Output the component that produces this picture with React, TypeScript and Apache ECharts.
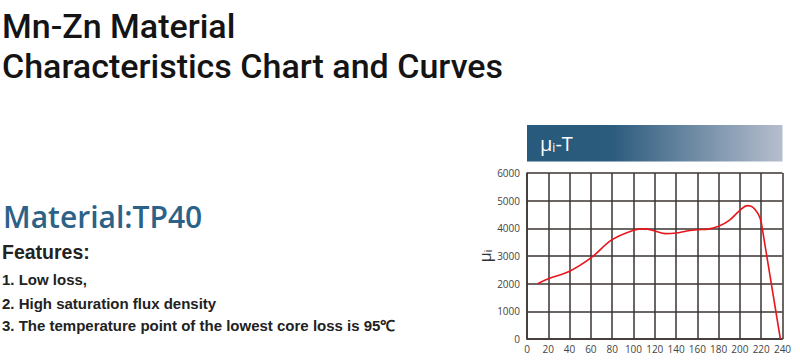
import React, { useEffect, useRef } from "react";
import * as echarts from "echarts";

const temps = [10, 20, 40, 60, 80, 100, 110, 120, 130, 140, 150, 160, 170, 180, 190, 200, 207, 212, 217, 220];
const mu = [2000, 2180, 2450, 2930, 3590, 3930, 3980, 3905, 3810, 3830, 3905, 3950, 3970, 4075, 4290, 4650, 4820, 4770, 4530, 4230];
const dropTemps = [220, 238];
const dropMu = [4230, 0];

const titleLines = ["Mn-Zn Material", "Characteristics Chart and Curves"];
const materialName = "Material:TP40";
const featuresHeading = "Features:";
const features = [
  "1. Low loss,",
  "2. High saturation flux density",
  "3. The temperature point of the lowest core loss is 95℃",
];

export default function App() {
  const ref = useRef<HTMLDivElement>(null);
  useEffect(() => {
    if (!ref.current) return;
    const chart = echarts.init(ref.current, undefined, { renderer: "svg" });
    const lineMain = temps.map((t, i) => [t, mu[i]]);
    const lineDrop = dropTemps.map((t, i) => [t, dropMu[i]]);
    const gridColor = "#3b3532";
    const titleSize = 34;
    const itemSize = 15;
    chart.setOption({
      animation: false,
      backgroundColor: "#ffffff",
      grid: { left: 527, right: 17.5, top: 173, bottom: 21, containLabel: false },
      xAxis: {
        type: "value",
        min: 0,
        max: 240,
        interval: 20,
        axisLine: { show: true, lineStyle: { color: gridColor, width: 1.5 } },
        axisTick: { show: false },
        splitLine: { show: true, lineStyle: { color: gridColor, width: 1.5 } },
        axisLabel: { color: "#444", fontSize: 10, fontFamily: "Open Sans", margin: 5 },
      },
      yAxis: {
        type: "value",
        min: 0,
        max: 6000,
        interval: 1000,
        name: "{mu|μ}{sub|i}",
        nameLocation: "middle",
        nameRotate: 90,
        nameGap: 33,
        nameTextStyle: {
          rich: {
            mu: { fontSize: 16, color: "#333", fontFamily: "Open Sans" },
            sub: { fontSize: 10, color: "#333", fontFamily: "Open Sans", padding: [6, 0, 0, 0] },
          },
        },
        axisLine: { show: true, lineStyle: { color: gridColor, width: 1.5 } },
        axisTick: { show: false },
        splitLine: { show: true, lineStyle: { color: gridColor, width: 1.5 } },
        axisLabel: {
          color: "#444",
          fontSize: 10,
          fontFamily: "Open Sans",
          margin: 7,
          formatter: (v: number) => String(v),
        },
      },
      series: [
        {
          type: "line",
          data: lineMain,
          smooth: 0.4,
          symbol: "none",
          lineStyle: { color: "#e8161c", width: 1.6 },
        },
        {
          type: "line",
          data: lineDrop,
          smooth: false,
          symbol: "none",
          lineStyle: { color: "#e8161c", width: 1.6 },
        },
      ],
      graphic: [
        {
          type: "rect",
          shape: { x: 527, y: 125, width: 255.5, height: 36.5 },
          style: {
            fill: new echarts.graphic.LinearGradient(0, 0, 1, 0, [
              { offset: 0, color: "#275a7c" },
              { offset: 0.33, color: "#2b5b7d" },
              { offset: 1, color: "#b6bece" },
            ]),
          },
        },
        {
          type: "text",
          x: 540,
          y: 143,
          style: {
            text: "{mu|μ}{sub|i}{t|-T}",
            verticalAlign: "middle",
            rich: {
              mu: { fontSize: 20, fill: "#ffffff", fontFamily: "Open Sans" },
              sub: { fontSize: 12, fill: "#ffffff", fontFamily: "Open Sans", padding: [8, 0, 0, 0] },
              t: { fontSize: 20, fill: "#ffffff", fontFamily: "Open Sans" },
            },
          },
        },
        ...titleLines.map((line, i) => ({
          type: "text",
          x: 2,
          y: [26.2, 66.2][i],
          style: {
            text: line,
            fill: "#141414",
            fontSize: titleSize,
            fontWeight: 500,
            fontFamily: "Roboto",
            verticalAlign: "middle",
          },
        })),
        {
          type: "text",
          x: 3,
          y: 216.5,
          style: {
            text: materialName,
            fill: "#2c6287",
            fontSize: 30,
            fontWeight: 600,
            fontFamily: "Open Sans",
            verticalAlign: "middle",
          },
        },
        {
          type: "text",
          x: 2,
          y: 251.5,
          style: {
            text: featuresHeading,
            fill: "#222",
            fontSize: 19.5,
            fontWeight: "bold",
            fontFamily: "Liberation Sans",
            verticalAlign: "middle",
          },
        },
        ...features.map((f, i) => ({
          type: "text",
          x: 2,
          y: [279.75, 303, 325.75][i],
          style: {
            text: f,
            fill: "#222",
            fontSize: itemSize,
            fontWeight: "bold",
            fontFamily: "Liberation Sans",
            verticalAlign: "middle",
          },
        })),
      ],
    });
    return () => chart.dispose();
  }, []);
  return (
    <div
      ref={ref}
      style={{ position: "fixed", left: 0, top: 0, width: 800, height: 360 }}
    />
  );
}
